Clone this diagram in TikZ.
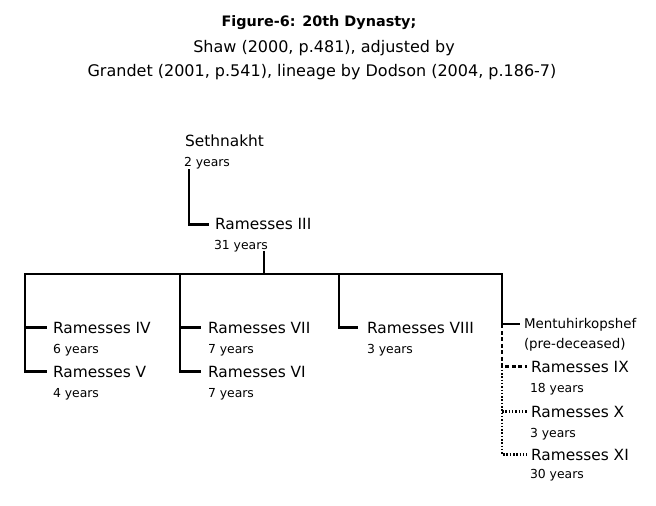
\documentclass[tikz,border=0pt]{standalone}
\usepackage{fontspec}
\setmainfont{DejaVu Sans}
\tikzset{
  lbl/.style={anchor=base west, inner sep=0pt, outer sep=0pt},
  ttl/.style={anchor=base, inner sep=0pt, outer sep=0pt},
  king/.style={lbl, font=\fontsize{15.4bp}{18bp}\selectfont},
  yrs/.style={lbl, font=\fontsize{12.4bp}{14bp}\selectfont},
  minor/.style={lbl, font=\fontsize{13.4bp}{16bp}\selectfont},
  wire/.style={line width=2.2bp, line cap=rect},
  dashwire/.style={line width=2.2bp, dash pattern=on 4bp off 2.5bp},
  dotwire/.style={line width=2.2bp, dash pattern=on 1.5bp off 1.8bp},
}
\begin{document}
\begin{tikzpicture}[x=1bp,y=-1bp]
\useasboundingbox[fill=white] (0,0) rectangle (656,506);
% title
\node[ttl, font=\fontsize{14.4bp}{17bp}\selectfont\bfseries] (t1) at (319,27) {Figure-6: 20th Dynasty;};
\node[ttl, font=\fontsize{16bp}{19bp}\selectfont] (t2) at (324,53) {Shaw (2000, p.481), adjusted by};
\node[ttl, font=\fontsize{16bp}{19bp}\selectfont] (t3) at (322,77) {Grandet (2001, p.541), lineage by Dodson (2004, p.186-7)};
% kings
\node[king] (seth) at (185,147) {Sethnakht};
\node[yrs] (sethy) at (184,167) {2 years};
\node[king] (r3) at (215,230) {Ramesses III};
\node[yrs] (r3y) at (214,250) {31 years};
\node[king] (r4) at (53,333) {Ramesses IV};
\node[yrs] (r4y) at (53,353) {6 years};
\node[king] (r5) at (53,377) {Ramesses V};
\node[yrs] (r5y) at (53,397) {4 years};
\node[king] (r7) at (208,333) {Ramesses VII};
\node[yrs] (r7y) at (208,353) {7 years};
\node[king] (r6) at (208,377) {Ramesses VI};
\node[yrs] (r6y) at (208,397) {7 years};
\node[king] (r8) at (367,333) {Ramesses VIII};
\node[yrs] (r8y) at (367,353) {3 years};
\node[minor] (men) at (524,328) {Mentuhirkopshef};
\node[minor] (pre) at (524,348) {(pre-deceased)};
\node[king] (r9) at (531,372) {Ramesses IX};
\node[yrs] (r9y) at (530,392) {18 years};
\node[king] (r10) at (531,417) {Ramesses X};
\node[yrs] (r10y) at (530,437) {3 years};
\node[king] (r11) at (531,460) {Ramesses XI};
\node[yrs] (r11y) at (530,478) {30 years};
% junctions on the bus
\coordinate (b1) at (25,274);
\coordinate (b2) at (180,274);
\coordinate (b3) at (264,274);
\coordinate (bc) at (339,274);
\coordinate (b4) at (502,274);
\coordinate (s1) at (189,170);
% connectors
\draw[wire] (s1) |- ([xshift=-7]r3.west);
\draw[wire] (r3y.south -| b3) -- (b3);
\draw[wire] (b1) -- (b4);
\draw[wire] (b1) |- ([xshift=-7]r5.west);
\draw[wire] (b1 |- r4.west) -- ([xshift=-7]r4.west);
\draw[wire] (b2) |- ([xshift=-8]r6.west);
\draw[wire] (b2 |- r7.west) -- ([xshift=-8]r7.west);
\draw[wire] (bc) |- ([xshift=-10]r8.west);
\draw[wire] (b4) |- ([xshift=-5]men.west);
\draw[dashwire] (b4 |- men.west) |- ([xshift=-4]r9.west);
\draw[dotwire] (b4 |- r9.west) |- ([xshift=-4]r11.west);
\draw[dotwire] (b4 |- r10.west) -- ([xshift=-4]r10.west);
\end{tikzpicture}
\end{document}
